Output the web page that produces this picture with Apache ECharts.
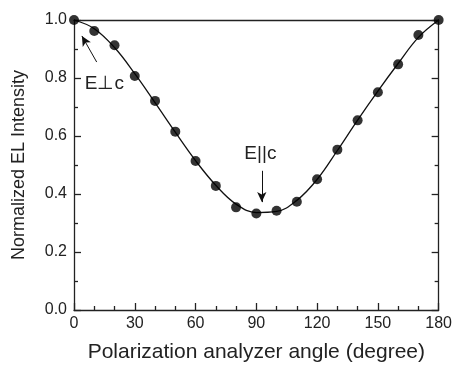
<!DOCTYPE html>
<html><head><meta charset="utf-8">
<script src="https://cdn.jsdelivr.net/npm/echarts@6/dist/echarts.min.js"></script>
<style>html,body{margin:0;padding:0;background:#fff}#c{width:455px;height:369px}</style>
</head><body><div id="c"></div>
<script>
const angles = [0,10,20,30,40,50,60,70,80,90,100,110,120,130,140,150,160,170,180];
const intensity = [1.0,0.962,0.913,0.807,0.721,0.615,0.514,0.428,0.354,0.333,0.342,0.373,0.451,0.553,0.654,0.751,0.847,0.948,1.0];
const fitCurve = [1.0,0.97,0.905,0.815,0.715,0.613,0.515,0.43,0.365,0.336,0.34,0.378,0.45,0.55,0.655,0.755,0.85,0.94,1.0];
const xTicks = [0,30,60,90,120,150,180];
const yTicks = [0.0,0.2,0.4,0.6,0.8,1.0];

const font = "Liberation Sans, Arial, sans-serif";
const chart = echarts.init(document.getElementById('c'));
const axisLine = {show:true, onZero:false, lineStyle:{color:'#222', width:1.3}};
const tick = {show:true, inside:true, length:7, lineStyle:{color:'#222', width:1.3}};
chart.setOption({
  animation:false,
  grid:{left:74, right:12, top:20, bottom:59},
  xAxis:[{
    type:'value', min:0, max:180, interval:30,
    name:'Polarization analyzer angle (degree)', nameLocation:'middle', nameGap:32,
    nameTextStyle:{fontFamily:font, fontSize:21, color:'#222'},
    axisLine:axisLine, axisTick:tick,
    minorTick:{show:true, splitNumber:3, length:4, lineStyle:{color:'#222', width:1.3}},
    axisLabel:{fontFamily:font, fontSize:16, color:'#222', margin:6,
      formatter:v=>xTicks.includes(v)?String(v):''},
    splitLine:{show:false}
  },{
    type:'value', position:'top', min:0, max:180,
    axisLine:axisLine, axisTick:{show:false}, axisLabel:{show:false}, splitLine:{show:false}
  }],
  yAxis:[{
    type:'value', min:0, max:1, interval:0.2,
    name:'Normalized EL Intensity', nameLocation:'middle', nameGap:46,
    nameTextStyle:{fontFamily:font, fontSize:18, color:'#222'},
    axisLine:axisLine, axisTick:tick,
    minorTick:{show:true, splitNumber:2, length:4, lineStyle:{color:'#222', width:1.3}},
    axisLabel:{fontFamily:font, fontSize:16, color:'#222', margin:7,
      formatter:v=>v.toFixed(1)},
    splitLine:{show:false}
  },{
    type:'value', position:'right', min:0, max:1, interval:0.2,
    axisLine:axisLine, axisTick:tick,
    minorTick:{show:true, splitNumber:2, length:4, lineStyle:{color:'#222', width:1.3}},
    axisLabel:{show:false}, splitLine:{show:false}
  }],
  series:[{
    type:'line', data:angles.map((a,i)=>[a,fitCurve[i]]), smooth:0.4, showSymbol:false,
    lineStyle:{color:'#111', width:1.3}, z:2,
    markLine:{
      silent:true, symbol:['none','arrow'], symbolSize:[7,10],
      lineStyle:{color:'#111', width:1, type:'solid'}, label:{show:false},
      data:[
        [{coord:[11.2,0.855]},{coord:[3.9,0.945]}],
        [{coord:[92.7,0.48]},{coord:[92.7,0.372]}]
      ]
    },
    markPoint:{
      symbol:'rect', symbolSize:1, itemStyle:{color:'rgba(0,0,0,0)'},
      label:{show:true, fontFamily:font, fontSize:19, color:'#222'},
      data:[
        {coord:[15.0,0.78], value:'E⊥c', label:{formatter:'E⊥c'}},
        {coord:[92.0,0.54], value:'E||c', label:{formatter:'E||c'}}
      ]
    }
  },{
    type:'scatter', data:angles.map((a,i)=>[a,intensity[i]]), symbolSize:10,
    itemStyle:{color:'#000'}, z:3
  }]
});
</script></body></html>
